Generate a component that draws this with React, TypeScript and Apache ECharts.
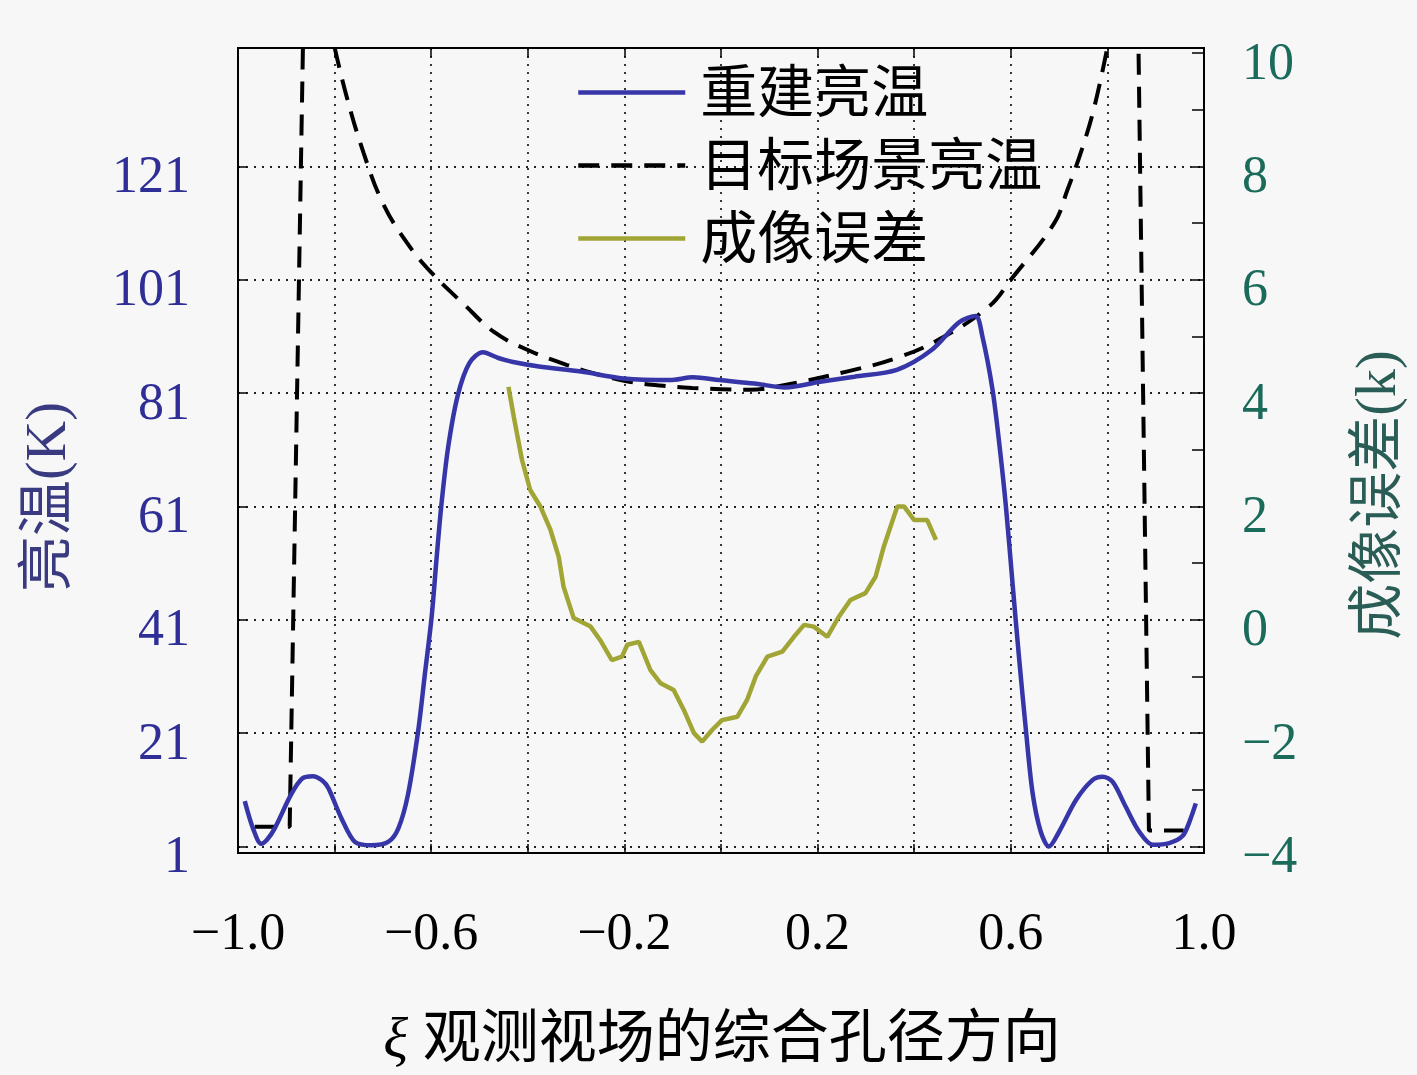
import React, { useEffect, useRef } from "react";
import * as echarts from "echarts";

// ---- data ----
const reconXi = [-0.986, -0.969, -0.952, -0.94, -0.924, -0.89, -0.867, -0.845, -0.825, -0.813, -0.786, -0.758, -0.724, -0.689, -0.668, -0.648, -0.627, -0.613, -0.599, -0.589, -0.579, -0.565, -0.545, -0.521, -0.493, -0.461, -0.425, -0.377, -0.29, -0.202, -0.106, -0.058, -0.003, 0.069, 0.133, 0.205, 0.276, 0.364, 0.436, 0.493, 0.527, 0.541, 0.562, 0.576, 0.59, 0.604, 0.617, 0.631, 0.645, 0.662, 0.679, 0.7, 0.735, 0.769, 0.79, 0.811, 0.838, 0.866, 0.894, 0.928, 0.956, 0.97, 0.983];
const reconTb = [9.0, 4.2, 1.5, 2.2, 4.2, 10.2, 13.0, 13.4, 12.6, 11.3, 6.0, 1.8, 1.2, 1.8, 4.2, 10.2, 21.4, 31.5, 41.6, 51.7, 61.2, 71.4, 80.6, 86.3, 88.2, 87.2, 86.4, 85.7, 84.8, 83.6, 83.3, 83.8, 83.3, 82.7, 82.0, 83.0, 83.9, 85.1, 88.6, 93.5, 94.6, 91.1, 81.7, 72.2, 60.9, 47.0, 34.4, 21.8, 10.5, 3.6, 1.0, 3.6, 9.2, 12.7, 13.3, 12.4, 8.0, 3.6, 1.3, 1.6, 2.9, 5.4, 8.6];

// target scene: left step, central U-shaped part, right step
const targetLeftXi = [-0.965, -0.893, -0.86];
const targetLeftTb = [4.5, 4.5, 170];
const targetXi = [-0.8, -0.775, -0.74, -0.7, -0.65, -0.6, -0.53, -0.47, -0.4, -0.32, -0.25, -0.19, -0.12, -0.06, 0.0, 0.06, 0.13, 0.26, 0.36, 0.45, 0.555, 0.6, 0.69, 0.717, 0.749, 0.773, 0.8];
const targetTb = [142, 133.3, 123.4, 114.5, 107.5, 102.3, 96.5, 91.8, 88.6, 86.0, 84.2, 83.0, 82.3, 81.9, 81.7, 81.6, 82.4, 84.8, 87.1, 90.4, 96.3, 101, 111, 116.8, 124.5, 131.5, 142];
const targetRightXi = [0.86, 0.886, 0.958];
const targetRightTb = [170, 3.8, 3.8];

const errorXi = [-0.44, -0.429, -0.412, -0.395, -0.374, -0.353, -0.336, -0.326, -0.305, -0.27, -0.25, -0.226, -0.205, -0.194, -0.17, -0.146, -0.125, -0.098, -0.077, -0.056, -0.039, -0.018, 0.002, 0.034, 0.054, 0.072, 0.096, 0.127, 0.151, 0.172, 0.192, 0.22, 0.244, 0.268, 0.299, 0.32, 0.337, 0.365, 0.379, 0.4, 0.427, 0.445];
const errorK = [4.11, 3.58, 2.82, 2.29, 2.0, 1.585, 1.11, 0.585, 0.03, -0.12, -0.36, -0.71, -0.65, -0.44, -0.39, -0.89, -1.12, -1.24, -1.59, -2.0, -2.15, -1.94, -1.77, -1.71, -1.415, -1.0, -0.65, -0.56, -0.3, -0.09, -0.12, -0.3, 0.055, 0.35, 0.47, 0.76, 1.29, 2.0, 2.0, 1.76, 1.76, 1.41];

const leftTicks = [1, 21, 41, 61, 81, 101, 121];
const leftLabels = [1, 21, 41, 61, 81, 101, 121];
const rightTicks = [-4, -3, -2, -1, 0, 1, 2, 3, 4, 5, 6, 7, 8, 9, 10];
const rightLabels = [-4, -2, 0, 2, 4, 6, 8, 10];
const xLabelTicks = [-1.0, -0.6, -0.2, 0.2, 0.6, 1.0];

const seriesNames = ["重建亮温", "目标场景亮温", "成像误差"];

const pairs = (xs: number[], ys: number[]) => xs.map((x, i) => [x, ys[i]]);

const SERIF = "'Liberation Serif', 'Noto Sans CJK SC', serif";
const fmtNum = (v: number, d = 0) => (v < 0 ? "\u2212" : "") + Math.abs(v).toFixed(d);

export default function App() {
  const ref = useRef<HTMLDivElement>(null);
  useEffect(() => {
    if (!ref.current) return;
    const chart = echarts.init(ref.current, null, { renderer: "svg" });
    const dotted = { type: [2, 6] as number[], color: "#222", width: 1.8 };
    const axisLine = { show: true, onZero: false, lineStyle: { color: "#000", width: 2 } };
    const dashStyle = { color: "#000", width: 4, type: [21, 12] as number[] };
    const targetBase = {
      name: seriesNames[1],
      type: "line",
      xAxisIndex: 0,
      yAxisIndex: 0,
      symbol: "none",
      lineStyle: dashStyle,
      itemStyle: { color: "#000" },
      z: 2,
    };
    const option: any = {
      animation: false,
      backgroundColor: "#f7f7f7",
      grid: {
        left: 238,
        right: 213,
        top: 48,
        bottom: 222,
        show: true,
        borderColor: "#000",
        borderWidth: 2,
        backgroundColor: "transparent",
      },
      legend: {
        orient: "vertical",
        left: 571,
        top: 59,
        itemWidth: 107,
        itemHeight: 4,
        itemGap: 16,
        itemStyle: { opacity: 0 },
        lineStyle: { width: 4.5 },
        data: seriesNames,
        textStyle: {
          fontSize: 57,
          lineHeight: 56,
          fontFamily: SERIF,
          color: "#000",
          padding: [0, 0, 0, 10],
        },
      },
      xAxis: [
        {
          type: "value",
          min: -1,
          max: 1,
          interval: 0.2,
          position: "bottom",
          axisLine,
          axisTick: { show: true, inside: true, length: 9, lineStyle: { color: "#000", width: 1.5 } },
          axisLabel: {
            margin: 52,
            fontSize: 52,
            fontFamily: SERIF,
            color: "#000",
            formatter: (v: number) => {
              const hit = xLabelTicks.some((t) => Math.abs(t - v) < 1e-6);
              return hit ? fmtNum(v, 1) : "";
            },
          },
          splitLine: { show: true, lineStyle: dotted },
        },
        {
          type: "value",
          min: -1,
          max: 1,
          interval: 0.2,
          position: "top",
          axisLine,
          axisTick: { show: true, inside: true, length: 9, lineStyle: { color: "#000", width: 1.5 } },
          axisLabel: { show: false },
          splitLine: { show: false },
        },
      ],
      yAxis: [
        {
          type: "value",
          min: -0.15,
          max: 141.9,
          position: "left",
          axisLine,
          axisTick: { show: true, inside: true, length: 9, customValues: leftTicks, lineStyle: { color: "#000", width: 1.5 } },
          axisLabel: {
            customValues: leftLabels,
            margin: 48,
            fontSize: 52,
            fontFamily: SERIF,
            color: "#2e2e96",
            verticalAlign: "top",
            lineHeight: 16,
            formatter: (v: number) => fmtNum(v),
          },
          splitLine: { show: true, lineStyle: dotted },
        },
        {
          type: "value",
          min: -4.115,
          max: 10.09,
          position: "right",
          axisLine,
          axisTick: { show: true, inside: true, length: 12, customValues: rightTicks, lineStyle: { color: "#000", width: 1.5 } },
          axisLabel: {
            customValues: rightLabels,
            margin: 38,
            fontSize: 52,
            fontFamily: SERIF,
            color: "#1a6b5a",
            verticalAlign: "top",
            lineHeight: 16,
            formatter: (v: number) => fmtNum(v),
          },
          splitLine: { show: false },
        },
      ],
      series: [
        { ...targetBase, data: pairs(targetLeftXi, targetLeftTb) },
        { ...targetBase, smooth: 0.4, data: pairs(targetXi, targetTb) },
        { ...targetBase, data: pairs(targetRightXi, targetRightTb) },
        {
          name: seriesNames[0],
          type: "line",
          xAxisIndex: 0,
          yAxisIndex: 0,
          symbol: "none",
          smooth: 0.3,
          data: pairs(reconXi, reconTb),
          lineStyle: { color: "#3636a8", width: 4.5 },
          itemStyle: { color: "#3636a8" },
          z: 3,
        },
        {
          name: seriesNames[2],
          type: "line",
          xAxisIndex: 0,
          yAxisIndex: 1,
          symbol: "none",
          data: pairs(errorXi, errorK),
          lineStyle: { color: "#a0a535", width: 4.5 },
          itemStyle: { color: "#a0a535" },
          z: 4,
        },
      ],
      graphic: [
        {
          type: "text",
          x: 46,
          y: 497,
          rotation: Math.PI / 2,
          style: {
            text: "亮温(K)",
            fontSize: 56,
            fontFamily: SERIF,
            fill: "#3a3a80",
            textAlign: "center",
            textVerticalAlign: "middle",
          },
        },
        {
          type: "text",
          x: 1376,
          y: 495,
          rotation: Math.PI / 2,
          style: {
            text: "成像误差(k)",
            fontSize: 56,
            fontFamily: SERIF,
            fill: "#2a5d55",
            textAlign: "center",
            textVerticalAlign: "middle",
          },
        },
        {
          type: "text",
          x: 722,
          y: 1037,
          style: {
            text: "{a|ξ} 观测视场的综合孔径方向",
            fontSize: 58,
            fontFamily: SERIF,
            fill: "#000",
            textAlign: "center",
            textVerticalAlign: "middle",
            rich: { a: { fontStyle: "italic", fontSize: 58, fontFamily: SERIF, fill: "#000" } },
          },
        },
      ],
    };
    chart.setOption(option);
    return () => chart.dispose();
  }, []);
  return (
    <div
      ref={ref}
      style={{ position: "absolute", left: 0, top: 0, width: 1417, height: 1075 }}
    />
  );
}
